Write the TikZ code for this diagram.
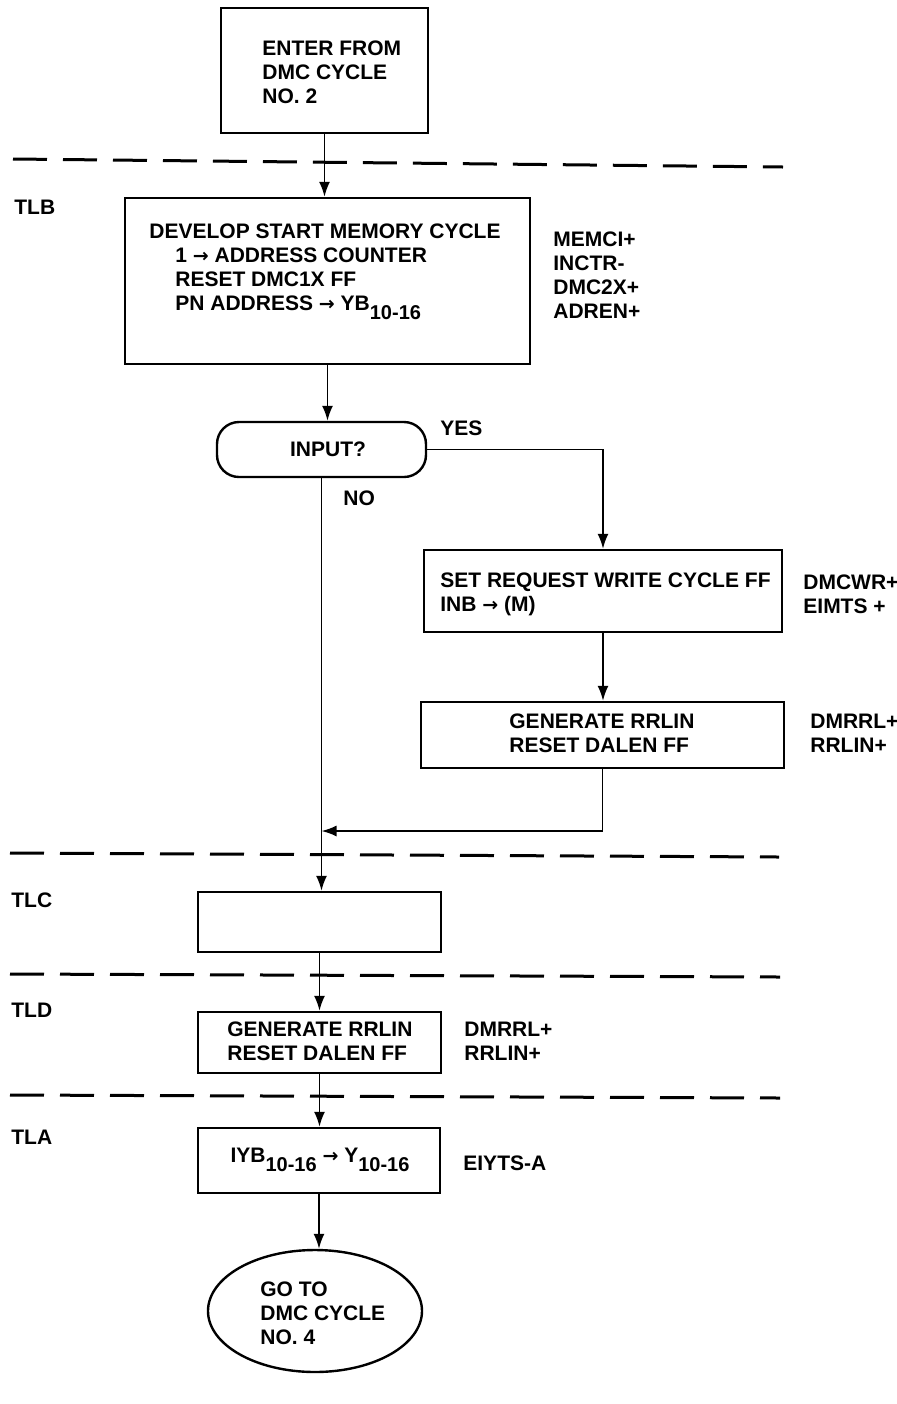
\documentclass[tikz,border=0pt]{standalone}
\usepackage{fontspec}
\setmainfont{Liberation Sans}
\newfontfamily\arrowfont{DejaVu Sans}
\usetikzlibrary{arrows.meta,shapes.geometric}
\begin{document}
\begin{tikzpicture}[x=0.5pt,y=-0.5pt,
  font=\fontsize{10.5}{12}\selectfont\bfseries,
  box/.style={draw,line width=1.2pt,inner sep=0pt},
  txt/.style={inner sep=0pt,align=left,anchor=west},
  arr/.style={line width=0.9pt,-{Latex[length=7.5pt,width=5.5pt]}},
  ln/.style={line width=0.9pt},
  sep/.style={line width=1.5pt,dash pattern=on 17pt off 8pt}]
\useasboundingbox[fill=white] (0,0) rectangle (897,1404);
\newcommand{\sbs}[1]{\raisebox{-0.45em}{\fontsize{10}{10}\selectfont #1}}
\newcommand{\rar}{{\arrowfont\fontsize{9.5}{9.5}\selectfont →}}
% separators
\draw[sep] (13,159) -- (783,167);
\draw[sep] (10,853) -- (779,857);
\draw[sep] (10,974) -- (780,977);
\draw[sep] (10,1095) -- (780,1098);
% boxes
\node[box,minimum width=103.5pt,minimum height=62.5pt] (start) at (324.5,70.5) {};
\node[box,minimum width=202.5pt,minimum height=83pt] (dev) at (327.5,281) {};
\node[box,rounded corners=11pt,minimum width=104.5pt,minimum height=27.5pt] (dec) at (321.5,449.5) {};
\node[box,minimum width=179pt,minimum height=41pt] (setreq) at (603,591) {};
\node[box,minimum width=181.5pt,minimum height=33pt] (gen1) at (602.5,735) {};
\node[box,minimum width=121.5pt,minimum height=30pt] (tlc) at (319.5,922) {};
\node[box,minimum width=121.5pt,minimum height=30.5pt] (gen2) at (319.5,1042.5) {};
\node[box,minimum width=121pt,minimum height=32.5pt] (tla) at (319,1160.5) {};
\node[box,ellipse,minimum width=107pt,minimum height=61pt] (goto) at (315,1311) {};
% texts in boxes
\node[txt] (tstart) at (262,72) {ENTER FROM\\DMC CYCLE\\NO. 2};
\node[txt] (tdev) at (149,272) {DEVELOP START MEMORY CYCLE\\
  \hspace*{13pt}1 \rar\ ADDRESS COUNTER\\
  \hspace*{13pt}RESET DMC1X FF\\
  \hspace*{13pt}PN ADDRESS \rar\ YB\sbs{10-16}};
\node[inner sep=0pt] (tdec) at (328,449) {INPUT?};
\node[txt] (tset) at (440,594.5) {SET REQUEST WRITE CYCLE FF\\INB \rar\ (M)};
\node[txt] (tgen1) at (509,733.5) {GENERATE RRLIN\\RESET DALEN FF};
\node[txt] (tgen2) at (227,1041.5) {GENERATE RRLIN\\RESET DALEN FF};
\node[inner sep=0pt] (ttla) at (320,1160) {IYB\sbs{10-16} \rar\ Y\sbs{10-16}};
\node[txt] (tgoto) at (260,1313) {GO TO\\DMC CYCLE\\NO. 4};
% side labels
\node[txt] (ltlb) at (14,207) {TLB};
\node[txt] (ltlc) at (11,900) {TLC};
\node[txt] (ltld) at (11,1010) {TLD};
\node[txt] (ltla) at (11,1137) {TLA};
\node[txt] (sdev) at (553,275) {MEMCI+\\INCTR-\\DMC2X+\\ADREN+};
\node[txt] (sset) at (803,594.5) {DMCWR+\\EIMTS +};
\node[txt] (sgen1) at (810,733.5) {DMRRL+\\RRLIN+};
\node[txt] (sgen2) at (464,1041.5) {DMRRL+\\RRLIN+};
\node[txt] (stla) at (463,1163) {EIYTS-A};
\node[txt] (lyes) at (440,428) {YES};
\node[txt] (lno) at (343,498) {NO};
% connectors
\draw[arr] (start.south) -- (start.south |- dev.north);
\draw[arr] (dev.south) -- (dev.south |- dec.north);
\draw[arr] (dec.east) -| (setreq.north);
\draw[arr] (setreq.south) -- (setreq.south |- gen1.north);
\draw[arr] (dec.south) -- (dec.south |- tlc.north);
\coordinate (mrg) at (321.5,831);
\draw[arr] (gen1.south) |- (mrg);
\draw[arr] (tlc.south) -- (tlc.south |- gen2.north);
\draw[arr] (gen2.south) -- (gen2.south |- tla.north);
\draw[arr] (tla.south) -- (tla.south |- goto.north);
\end{tikzpicture}
\end{document}
